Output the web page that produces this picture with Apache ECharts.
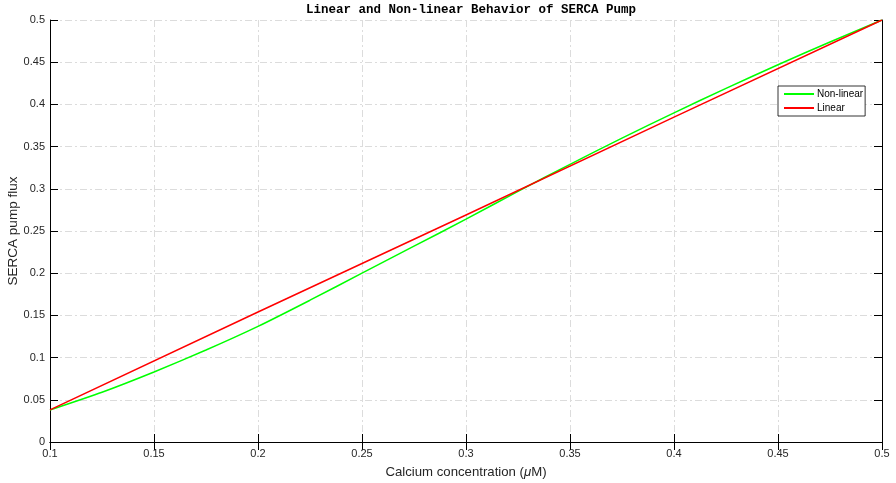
<!DOCTYPE html>
<html>
<head>
<meta charset="utf-8">
<script src="https://cdn.jsdelivr.net/npm/echarts@6/dist/echarts.min.js"></script>
<style>
  html, body { margin: 0; padding: 0; background: #fff; }
  #chart { width: 896px; height: 483px; }
</style>
</head>
<body>
<div id="chart"></div>
<script>
// calcium concentration (uM) sampled along the curves
var calcium = [0.1, 0.125, 0.15, 0.175, 0.2, 0.225, 0.25, 0.275, 0.3,
               0.325, 0.35, 0.375, 0.4, 0.425, 0.45, 0.475, 0.5];
// flux
var nonLinear = [0.038, 0.059, 0.083, 0.109, 0.137, 0.168, 0.2, 0.232, 0.264,
                 0.297, 0.329, 0.36, 0.39, 0.419, 0.447, 0.474, 0.5];
// red curve is a straight line
var linearX = [0.1, 0.2, 0.3, 0.4, 0.5];
var linearY = [0.038, 0.154, 0.269, 0.385, 0.5];

var xTicks = [0.1, 0.15, 0.2, 0.25, 0.3, 0.35, 0.4, 0.45, 0.5];
var yTicks = [0, 0.05, 0.1, 0.15, 0.2, 0.25, 0.3, 0.35, 0.4, 0.45, 0.5];

function pairs(xs, ys) {
    var out = [];
    for (var i = 0; i < xs.length; i++) out.push([xs[i], ys[i]]);
    return out;
}

var font = 'Helvetica, Arial, "Liberation Sans", sans-serif';
var grid = { color: '#dcdcdc', width: 1, type: [7, 3, 2, 3] };

var chart = echarts.init(document.getElementById('chart'));
chart.setOption({
    animation: false,
    backgroundColor: '#fff',
    title: {
        text: 'Linear and Non-linear Behavior of SERCA Pump',
        left: 466, top: -2, textAlign: 'center',
        textStyle: { fontFamily: '"Courier New", "Liberation Mono", monospace', fontWeight: 'bold', fontSize: 12.5, color: '#000' }
    },
    grid: { left: 50, right: 14, top: 20, bottom: 41, outerBoundsMode: 'none', containLabel: false },
    legend: {
        left: 778, top: 86, orient: 'vertical',
        backgroundColor: '#fff', borderColor: '#000', borderWidth: 0.8,
        padding: [3, 2, 3, 6], itemGap: 4,
        itemWidth: 30, itemHeight: 2, icon: 'rect',
        textStyle: { fontFamily: font, fontSize: 10, color: '#000', padding: [0, 0, 0, -2] },
        data: ['Non-linear', 'Linear']
    },
    xAxis: [{
        type: 'value', min: xTicks[0], max: xTicks[xTicks.length - 1], interval: 0.05,
        name: 'Calcium concentration ({i|μ}M)', nameLocation: 'middle', nameGap: 24, nameMoveOverlap: false,
        nameTextStyle: { fontFamily: font, fontSize: 13.2, color: '#262626', rich: { i: { fontStyle: 'italic', fontFamily: font, fontSize: 13.2, color: '#262626' } } },
        axisLine: { lineStyle: { color: '#000', width: 1 } },
        axisTick: { inside: true, length: 8, lineStyle: { color: '#000' } },
        axisLabel: { fontFamily: font, fontSize: 11, color: '#262626', margin: 6 },
        splitLine: { show: true, lineStyle: grid }
    }, {
        type: 'value', position: 'top', min: 0.1, max: 0.5, interval: 0.05,
        axisLine: { show: true, lineStyle: { color: '#000', width: 1 } },
        axisTick: { show: true, inside: true, length: 8, lineStyle: { color: '#000' } },
        axisLabel: { show: false }, splitLine: { show: false }
    }],
    yAxis: [{
        type: 'value', min: yTicks[0], max: yTicks[yTicks.length - 1], interval: 0.05,
        name: 'SERCA pump flux', nameLocation: 'middle', nameGap: 30, nameMoveOverlap: false,
        nameTextStyle: { fontFamily: font, fontSize: 13.5, color: '#262626' },
        axisLine: { show: true, lineStyle: { color: '#000', width: 1 } },
        axisTick: { show: true, inside: true, length: 8, lineStyle: { color: '#000' } },
        axisLabel: { fontFamily: font, fontSize: 11, color: '#262626', margin: 5 },
        splitLine: { show: true, lineStyle: grid }
    }, {
        type: 'value', position: 'right', min: 0, max: 0.5, interval: 0.05,
        axisLine: { show: true, lineStyle: { color: '#000', width: 1 } },
        axisTick: { show: true, inside: true, length: 8, lineStyle: { color: '#000' } },
        axisLabel: { show: false }, splitLine: { show: false }
    }],
    series: [{
        name: 'Non-linear', type: 'line', smooth: 0.2, showSymbol: false,
        color: '#00ff00', lineStyle: { width: 1.5, color: '#00ff00' },
        data: pairs(calcium, nonLinear)
    }, {
        name: 'Linear', type: 'line', showSymbol: false,
        color: '#ff0000', lineStyle: { width: 1.5, color: '#ff0000' },
        data: pairs(linearX, linearY)
    }]
});
</script>
</body>
</html>
